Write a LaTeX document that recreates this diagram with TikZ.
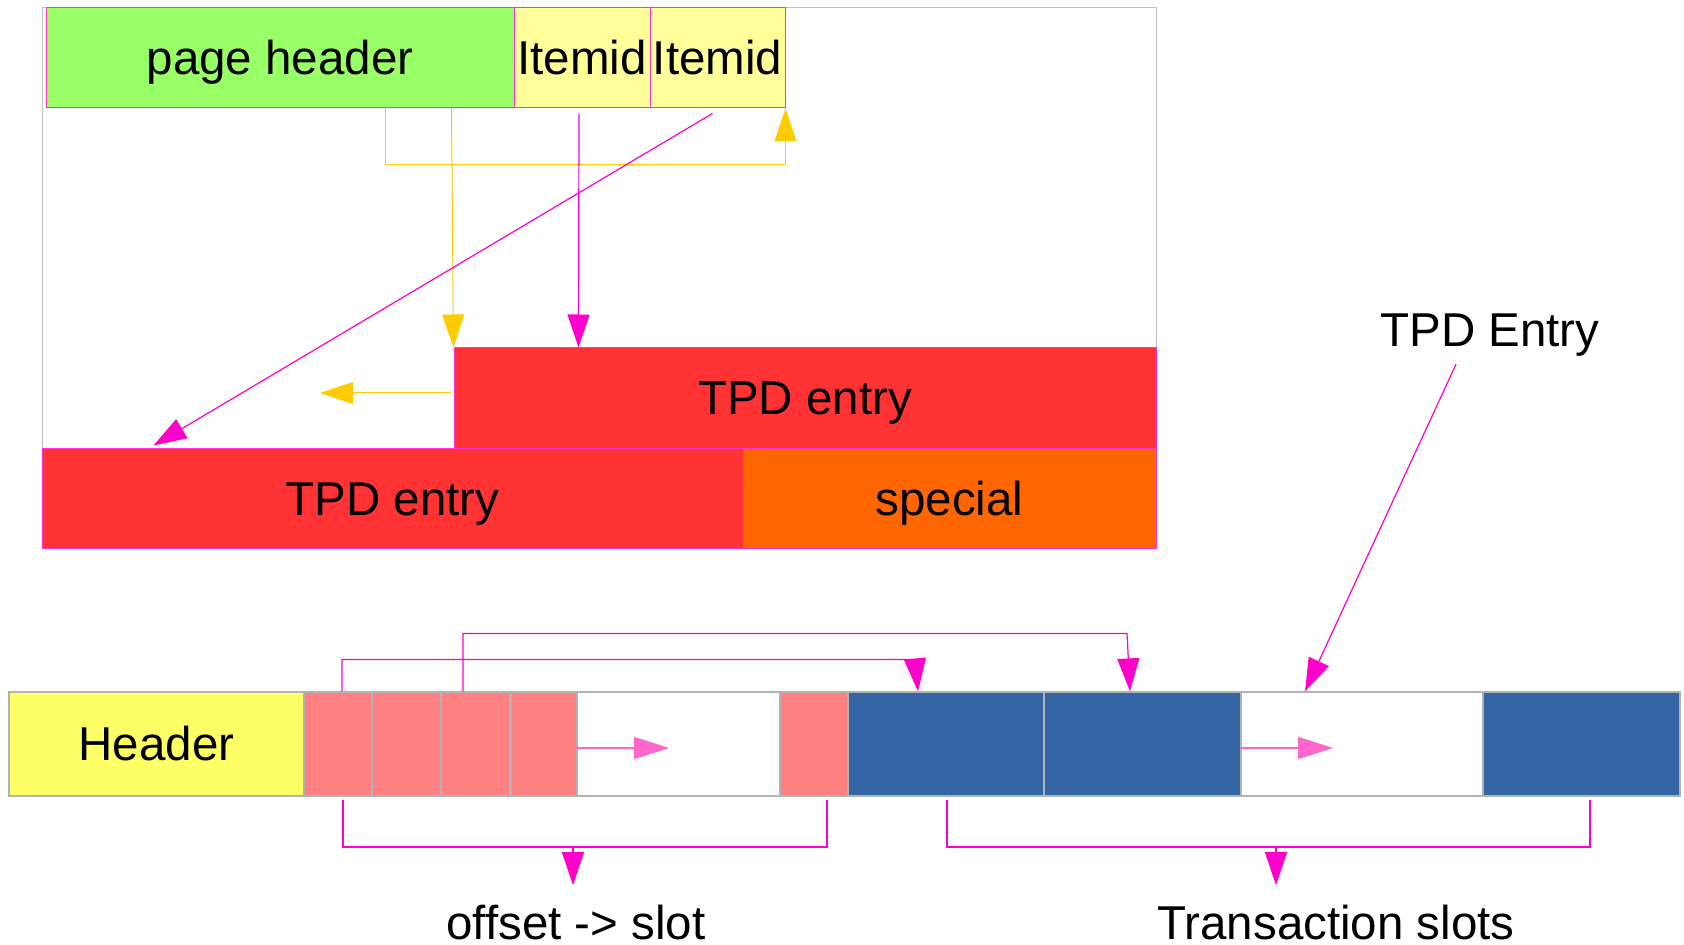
\documentclass[tikz,border=0pt]{standalone}
\usepackage{fontspec}
\setmainfont{Liberation Sans}
\usetikzlibrary{arrows.meta,calc}

\definecolor{hdrgreen}{HTML}{99FF66}
\definecolor{idyellow}{HTML}{FFFF99}
\definecolor{tpdred}{HTML}{FF3333}
\definecolor{specorange}{HTML}{FF6600}
\definecolor{linkmag}{HTML}{FF00CC}
\definecolor{linkyel}{HTML}{FFCC00}
\definecolor{barhdr}{HTML}{FFFF66}
\definecolor{offpink}{HTML}{FF8080}
\definecolor{slotblue}{HTML}{3465A4}
\definecolor{fwdpink}{HTML}{FF66CC}
\definecolor{edgegray}{HTML}{B3B3B3}
\definecolor{framegray}{HTML}{C0C0C0}
\definecolor{boxedge}{HTML}{FF33CC}

\begin{document}
\begin{tikzpicture}[x=0.5pt,y=-0.5pt,
  lbl/.style={font=\fontsize{23.75pt}{28pt}\selectfont, text=black},
  blk/.style={lbl, rectangle, inner sep=0pt, draw=boxedge, line width=0.5pt,
    text height=21.5pt, text depth=5pt, minimum height=50pt},
  cell/.style={lbl, rectangle, inner sep=0pt, draw=edgegray, line width=0.6pt,
    text height=21.5pt, text depth=5pt, minimum height=52pt},
  free/.style={lbl, inner sep=0pt, anchor=base},
  headtri/.style={-{Triangle[length=16.5pt,width=11pt]}},
  mag/.style={draw=linkmag, line width=0.6pt, headtri},
  magthin/.style={draw=linkmag, line width=0.6pt},
  yel/.style={draw=linkyel, line width=0.5pt, headtri},
  fwd/.style={draw=fwdpink, line width=0.6pt, -{Triangle[length=17.5pt,width=11pt]}}
]
\useasboundingbox (0,0) rectangle (1684,945);
\fill[white] (0,0) rectangle (1684,945);

% ---------- page layout ----------
\node[rectangle, draw=framegray, line width=0.5pt, minimum width=557pt,
      minimum height=270.5pt, inner sep=0pt] (frame) at (599,278.5) {};

\node[blk, fill=hdrgreen, minimum width=234pt] (ph) at (280,58) {page header};
\node[blk, fill=idyellow, minimum width=68pt] (id1) at (582,58) {Itemid};
\node[blk, fill=idyellow, minimum width=67.5pt] (id2) at (717.5,58) {Itemid};

\node[blk, fill=tpdred, minimum width=351pt, minimum height=50.5pt] (tpdA) at (805,398.5) {TPD entry};
\node[blk, fill=tpdred, minimum width=350.5pt] (tpdB) at (392.5,499) {TPD entry};
\node[blk, fill=specorange, minimum width=206.5pt] (sp) at (949.5,499) {special};

% links inside the page
\draw[yel] ([xshift=170pt]ph.south west) |- ([yshift=-28pt]id2.south east) -- (id2.south east);
\draw[yel] ([xshift=203pt]ph.south west) -- (tpdA.north west);
\draw[mag] ([xshift=-1.5pt,yshift=-2.5pt]id1.south) -- ([xshift=62.5pt]tpdA.north west);
\draw[mag] ([xshift=-2.5pt,yshift=-2.5pt]id2.south) -- ([xshift=56pt,yshift=1.5pt]tpdB.north west);
\coordinate (ytip) at (320,393);
\draw[yel] ([xshift=-1.5pt,yshift=2.75pt]tpdA.west) -- (ytip);

% ---------- TPD entry layout ----------
\node[cell, fill=barhdr, minimum width=147.5pt] (hdr) at (156.5,744) {Header};
\node[cell, fill=offpink, minimum width=34pt]   (p1) at (338,744) {};
\node[cell, fill=offpink, minimum width=34.5pt] (p2) at (406.5,744) {};
\node[cell, fill=offpink, minimum width=34.5pt] (p3) at (475.5,744) {};
\node[cell, fill=offpink, minimum width=33pt]   (p4) at (544,744) {};
\node[cell, fill=white,   minimum width=101.5pt] (w1) at (678.5,744) {};
\node[cell, fill=offpink, minimum width=34pt]   (p5) at (814,744) {};
\node[cell, fill=slotblue, minimum width=98pt]  (b1) at (946,744) {};
\node[cell, fill=slotblue, minimum width=98.5pt] (b2) at (1142.5,744) {};
\node[cell, fill=white,   minimum width=121pt]  (w2) at (1362,744) {};
\node[cell, fill=slotblue, minimum width=98.5pt] (b3) at (1581.5,744) {};

% offsets pointing at slots
\draw[mag] ([xshift=2pt]p1.north) |- ([xshift=-15.5pt,yshift=16pt]b1.north) -- ([xshift=-14pt]b1.north);
\draw[mag] ([xshift=-6.25pt]p3.north) |- ([xshift=-7.75pt,yshift=29pt]b2.north) -- ([xshift=-6.25pt]b2.north);

% free space markers
\coordinate (w1tip) at (669,748);
\draw[fwd] ([yshift=-2pt]w1.west) -- (w1tip);
\coordinate (w2tip) at (1333,748);
\draw[fwd] ([yshift=-2pt]w2.west) -- (w2tip);

% labels
\node[free] (tpdlbl) at (1490,347) {TPD Entry};
\node[free] (offl) at (576,939) {offset -> slot};
\node[free] (tsl) at (1336,939) {Transaction slots};

\draw[mag] ([xshift=-17pt,yshift=-3.5pt]tpdlbl.south) -- ([xshift=-28.5pt]w2.north);

% brackets
\coordinate (brL) at (573,847);
\draw[magthin] ([xshift=2.5pt,yshift=-1.5pt]p1.south) |- (brL) -| ([xshift=6.5pt,yshift=-1.5pt]p5.south);
\draw[mag, shorten >=9.5pt] (brL) -- (brL |- offl.north);

\coordinate (brR) at (1276,847);
\draw[magthin] ([xshift=0.5pt,yshift=-1.5pt]b1.south) |- (brR) -| ([xshift=4.25pt,yshift=-1.5pt]b3.south);
\draw[mag, shorten >=9.5pt] (brR) -- (brR |- tsl.north);
\end{tikzpicture}
\end{document}
